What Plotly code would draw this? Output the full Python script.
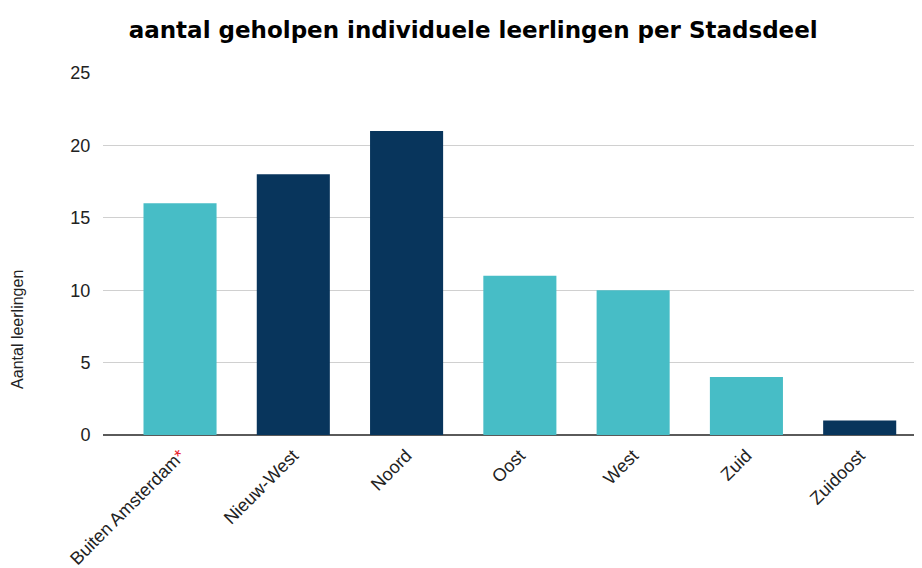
import plotly.graph_objects as go

categories = ["Buiten Amsterdam", "Nieuw-West", "Noord", "Oost", "West", "Zuid", "Zuidoost"]
values = [16, 18, 21, 11, 10, 4, 1]
bar_colors = ["#47BDC6", "#08355C", "#08355C", "#47BDC6", "#47BDC6", "#47BDC6", "#08355C"]
tick_labels = ["Buiten Amsterdam<span style='color:#e8202a'>*</span>", "Nieuw-West", "Noord",
               "Oost", "West", "Zuid", "Zuidoost"]
y_ticks = [0, 5, 10, 15, 20, 25]

fig = go.Figure(go.Bar(
    x=categories, y=values, marker=dict(color=bar_colors, line=dict(width=0)),
    hoverinfo="x+y",
))

fig.update_layout(
    width=914, height=560,
    margin=dict(l=95, r=0, t=65, b=133),
    paper_bgcolor="white", plot_bgcolor="white",
    bargap=0.355,
    showlegend=False,
    title=dict(text="<b>aantal geholpen individuele leerlingen per Stadsdeel</b>",
               x=0.509, xanchor="center", y=0.961, yanchor="middle",
               font=dict(family="DejaVu Sans", size=23, color="#000000")),
    font=dict(family="Liberation Sans, Arial, sans-serif", color="#222222"),
)

fig.update_xaxes(
    range=[-0.68, 6.55], automargin=False,
    tickmode="array", tickvals=categories, ticktext=tick_labels,
    tickangle=-45, tickfont=dict(size=18, color="#222222"),
    ticks="outside", ticklen=2, tickcolor="rgba(0,0,0,0)",
    showgrid=False, showline=False, zeroline=False,
)
fig.update_yaxes(
    range=[0, 25], tickvals=y_ticks, automargin=False,
    showgrid=True, gridcolor="#d0d0d0", gridwidth=1,
    zeroline=True, zerolinecolor="#5a5a5a", zerolinewidth=2,
    tickfont=dict(size=18, color="#222222"),
    ticks="outside", ticklen=8, tickcolor="rgba(0,0,0,0)",
    showline=False,
)

fig.add_annotation(
    text="Aantal leerlingen", xref="paper", yref="paper",
    x=-0.1038, y=0.293, textangle=-90, showarrow=False,
    xanchor="center", yanchor="middle",
    font=dict(size=16, color="#222222", family="Liberation Sans, Arial, sans-serif"),
)

fig.write_html("out.html")
